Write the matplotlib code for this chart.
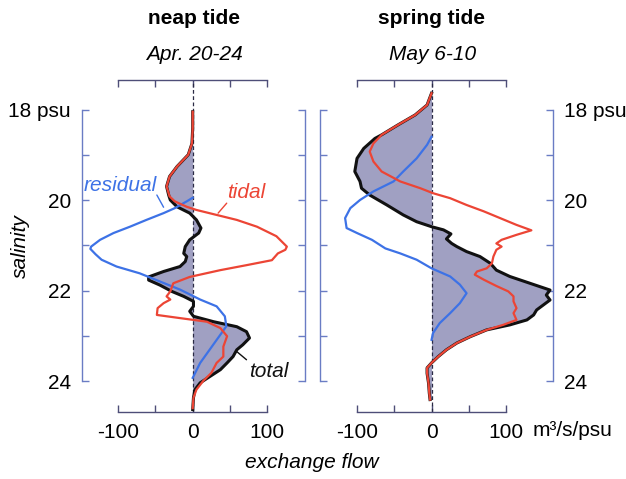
import matplotlib
matplotlib.use("Agg")
import matplotlib.pyplot as plt
import numpy as np

plt.rcParams['font.family'] = ['Liberation Sans', 'DejaVu Sans']

# ---------------- data ----------------
# neap tide (Apr. 20-24)
neap_tidal_s = [18.05, 18.4, 18.75, 19.0, 19.26, 19.48, 19.7, 19.92, 20.03, 20.15, 20.22, 20.33,
                20.44, 20.59, 20.8, 21.03, 21.1, 21.18, 21.33, 21.44, 21.55, 21.7, 21.84, 22.02,
                22.13, 22.2, 22.28, 22.39, 22.54, 22.61, 22.69, 22.83, 23.01, 23.24, 23.46, 23.6,
                23.82, 24.0, 24.19, 24.37, 24.6]
neap_tidal_q = [0, 0, -1, -6, -21, -31, -35, -31, -24, -8, 5, 32,
                59, 86, 112, 126, 124, 114, 106, 72, 37, -4, -26, -30,
                -35, -30, -39, -47, -48, -17, 19, 37, 46, 41, 41, 32,
                25, 14, 5, 1, 0]

neap_resid_s = [19.95, 20.03, 20.18, 20.29, 20.44, 20.59, 20.73, 20.88, 21.03, 21.08, 21.2, 21.32,
                21.47, 21.62, 21.8, 21.98, 22.2, 22.35, 22.57, 22.79, 23.0, 23.3, 23.6, 23.93]
neap_resid_q = [0, -8, -24, -39, -62, -84, -106, -124, -136, -137, -130, -122,
                -102, -71, -44, -17, 10, 32, 43, 45, 36, 23, 10, 0]

neap_total_s = [18.05, 18.4, 18.75, 19.0, 19.26, 19.48, 19.7, 19.9, 20.0, 20.15, 20.29, 20.44,
                20.62, 20.73, 20.88, 21.03, 21.18, 21.25, 21.36, 21.47, 21.58, 21.7, 21.77, 21.88,
                22.02, 22.13, 22.24, 22.35, 22.46, 22.57, 22.69, 22.8, 22.91, 23.05, 23.2, 23.31,
                23.46, 23.6, 23.75, 23.9, 24.04, 24.19, 24.37, 24.63]
neap_total_q = [0, 0, -1, -6, -21, -31, -35, -32, -30, -21, -4, 5,
                11, 8, -4, -10, -12, -8, -10, -17, -39, -59, -59, -44,
                -28, -12, 1, 1, -4, 1, 28, 59, 72, 76, 67, 59,
                54, 46, 37, 23, 10, 3, 1, 0]

# spring tide (May 6-10)
spring_tidal_s = [17.64, 17.9, 18.12, 18.34, 18.56, 18.75, 18.93, 19.15, 19.37, 19.59, 19.74, 19.85,
                  19.96, 20.11, 20.25, 20.4, 20.55, 20.67, 20.77, 20.88, 20.96, 21.03, 21.1, 21.25,
                  21.4, 21.51, 21.58, 21.65, 21.76, 21.9, 22.02, 22.13, 22.24, 22.39, 22.5, 22.65,
                  22.76, 22.87, 23.02, 23.16, 23.31, 23.46, 23.6, 23.71, 23.83, 24.05, 24.27, 24.41]
spring_tidal_q = [0, -6, -22, -45, -67, -78, -83, -78, -67, -42, -15, 2,
                  25, 47, 70, 92, 114, 134, 114, 94, 87, 94, 87, 83,
                  81, 74, 61, 58, 70, 87, 103, 110, 110, 114, 110, 114,
                  96, 74, 52, 34, 20, 9, 0, -6, -6, -4, -3, -2]

spring_resid_s = [18.6, 18.78, 19.08, 19.37, 19.59, 19.81, 20.0, 20.18, 20.4, 20.62, 20.73, 20.88,
                  21.07, 21.18, 21.32, 21.51, 21.69, 21.87, 22.06, 22.28, 22.5, 22.72, 22.94, 23.09]
spring_resid_q = [0, -6, -20, -38, -51, -78, -96, -109, -116, -114, -100, -80,
                  -62, -42, -20, 0, 25, 38, 47, 38, 25, 11, 2, 0]

spring_total_s = [17.64, 17.9, 18.12, 18.34, 18.56, 18.64, 18.86, 19.08, 19.37, 19.59, 19.74, 19.89,
                  20.11, 20.33, 20.48, 20.59, 20.66, 20.75, 20.86, 20.96, 21.03, 21.14, 21.25, 21.4,
                  21.55, 21.69, 21.84, 21.99, 22.1, 22.21, 22.32, 22.43, 22.54, 22.65, 22.76, 22.87,
                  23.02, 23.16, 23.31, 23.46, 23.6, 23.71, 23.83, 24.05, 24.27, 24.41]
spring_total_q = [0, -6, -22, -45, -67, -76, -91, -100, -103, -96, -94, -83,
                  -60, -38, -20, 0, 16, 26, 20, 27, 34, 47, 65, 79,
                  87, 105, 132, 159, 154, 159, 150, 141, 137, 128, 105, 74,
                  52, 34, 20, 9, 0, -6, -6, -4, -3, -2]

titles = ["neap tide", "spring tide"]
subtitles = ["Apr. 20-24", "May 6-10"]
x_ticks = [-100, -50, 0, 50, 100]
x_ticklabels = ["-100", "", "0", "", "100"]
y_ticks = [18, 19, 20, 21, 22, 23, 24]
y_ticklabels = ["18 psu", "", "20", "", "22", "", "24"]

# ---------------- style ----------------
W, H = 626, 479
RED = '#ec4535'
BLUE = '#3d72e6'
FILL = '#a0a0c2'
YSP = '#6a7cc4'
XSP = '#4e4e78'
FS = 15

fig = plt.figure(figsize=(W / 100, H / 100), dpi=100)

def px_axes(x0, x1, y0, y1):
    return fig.add_axes([x0 / W, 1 - y1 / H, (x1 - x0) / W, (y1 - y0) / H])

axL = px_axes(82, 305, 80, 412)
axR = px_axes(320, 553, 80, 412)

panels = [
    (axL, (-148.2, 150.3), neap_total_s, neap_total_q, neap_resid_s, neap_resid_q,
     neap_tidal_s, neap_tidal_q, 'left'),
    (axR, (-149.7, 163.0), spring_total_s, spring_total_q, spring_resid_s, spring_resid_q,
     spring_tidal_s, spring_tidal_q, 'right'),
]

for ax, xl, ts, tq, rs, rq, ds, dq, side in panels:
    ax.set_xlim(*xl)
    ax.set_ylim(24.685, 17.348)
    ax.fill_betweenx(ts, 0, tq, color=FILL, lw=0, zorder=1)
    ax.axvline(0, color='#2a2a44', lw=0.9, ls=(0, (3, 2)), zorder=2)
    ax.plot(tq, ts, color='#111111', lw=2.2, zorder=3, solid_joinstyle='round')
    ax.plot(rq, rs, color=BLUE, lw=1.6, zorder=4)
    ax.plot(dq, ds, color=RED, lw=1.6, zorder=5)

    for sp in ['left', 'right']:
        ax.spines[sp].set_bounds(18, 24)
        ax.spines[sp].set_color(YSP)
        ax.spines[sp].set_linewidth(1.0)
    for sp in ['top', 'bottom']:
        ax.spines[sp].set_bounds(-100, 100)
        ax.spines[sp].set_color(XSP)
        ax.spines[sp].set_linewidth(1.0)

    ax.set_xticks(x_ticks)
    ax.set_xticklabels(x_ticklabels)
    ax.set_yticks(y_ticks)
    ax.set_yticklabels(y_ticklabels)
    ax.tick_params(axis='x', direction='in', length=5, width=1.0, color=XSP,
                   top=True, bottom=True, labeltop=False, labelbottom=True,
                   labelsize=FS, pad=8)
    ax.tick_params(axis='y', direction='in', length=5, width=1.0, color=YSP,
                   left=True, right=True, labelsize=FS, pad=8,
                   labelleft=(side == 'left'), labelright=(side == 'right'))
    ax.patch.set_alpha(0)

# titles
def ftext(x, y, s, **kw):
    fig.text(x / W, 1 - y / H, s, ha='center', va='center', fontsize=FS, **kw)

ftext(194, 19, titles[0], fontweight='bold')
ftext(194, 55, subtitles[0], style='italic')
ftext(432, 19, titles[1], fontweight='bold')
ftext(433, 55, subtitles[1], style='italic')
ftext(312, 463, "exchange flow", style='italic')
fig.text(20 / W, 1 - 246 / H, "salinity", ha='center', va='center', fontsize=FS,
         style='italic', rotation=90)
fig.text(533 / W, 1 - 431 / H, "m\u00b3/s/psu", ha='left', va='center', fontsize=FS)

# annotations (left panel)
axL.text(-97, 19.67, "residual", color=BLUE, style='italic', fontsize=FS,
         ha='center', va='center')
axL.annotate('', xy=(-39, 20.16), xytext=(-48, 19.89),
             arrowprops=dict(arrowstyle='-', color=BLUE, lw=1.0, shrinkA=0, shrinkB=0))
axL.text(72, 19.84, "tidal", color=RED, style='italic', fontsize=FS,
         ha='center', va='center')
axL.annotate('', xy=(34, 20.29), xytext=(45.5, 20.07),
             arrowprops=dict(arrowstyle='-', color=RED, lw=1.0, shrinkA=0, shrinkB=0))
axL.text(102, 23.78, "total", color='#111111', style='italic', fontsize=FS,
         ha='center', va='center')
axL.annotate('', xy=(59, 23.35), xytext=(72, 23.53),
             arrowprops=dict(arrowstyle='-', color='#111111', lw=1.0, shrinkA=0, shrinkB=0))

fig.savefig("out.png", dpi=100)
